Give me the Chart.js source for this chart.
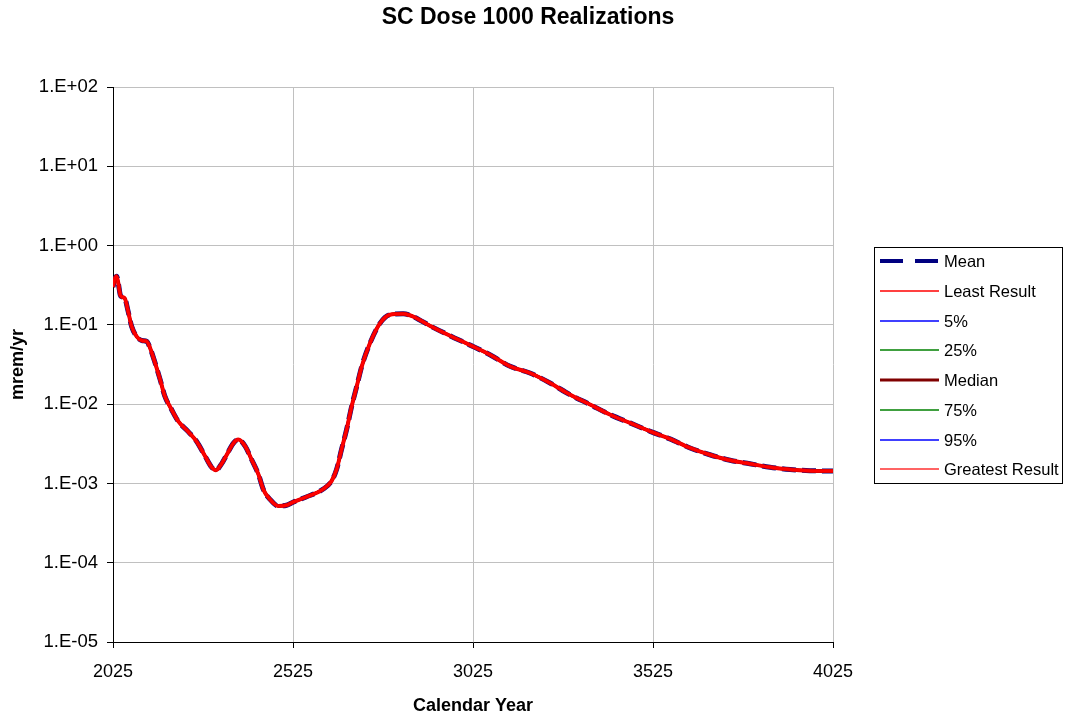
<!DOCTYPE html>
<html>
<head>
<meta charset="utf-8">
<title>SC Dose 1000 Realizations</title>
<script src="https://cdn.jsdelivr.net/npm/chart.js@4.4.1/dist/chart.umd.min.js"></script>
<style>
  html, body { margin: 0; padding: 0; background: #ffffff; }
  canvas { display: block; }
</style>
</head>
<body>
<canvas id="doseChart" width="1066" height="721"></canvas>
<script>
// ---- Data -------------------------------------------------------------
const chartTitle = 'SC Dose 1000 Realizations';
const xAxisTitle = 'Calendar Year';
const yAxisTitle = 'mrem/yr';

const seriesNames = ['Mean', 'Least Result', '5%', '25%', 'Median', '75%', '95%', 'Greatest Result'];

// Calendar years of the sampled dose history
const years = [
  2025, 2030, 2035, 2040, 2045, 2050, 2058, 2066, 2077, 2091,
  2105, 2119, 2128, 2142, 2156, 2169, 2188, 2206, 2234, 2257,
  2281, 2299, 2311, 2327, 2341, 2359, 2373, 2392, 2410, 2429,
  2443, 2461, 2484, 2507, 2525, 2560, 2609, 2632, 2646, 2660,
  2674, 2688, 2702, 2716, 2739, 2767, 2794, 2831, 2859, 2906,
  2961, 3017, 3072, 3128, 3183, 3239, 3294, 3350, 3405, 3461,
  3519, 3572, 3628, 3683, 3739, 3794, 3850, 3906, 3961, 4025
];

// Dose (mrem/yr); every statistic of the 1000 realizations follows this
// same history, so all eight series share these values.
const dose = [
  0.30, 0.38, 0.41, 0.33, 0.24, 0.225, 0.215, 0.155, 0.095, 0.071,
  0.0635, 0.0617, 0.051, 0.033, 0.0204, 0.0126, 0.0085, 0.0061, 0.0045, 0.0034,
  0.0022, 0.0016, 0.00147, 0.00178, 0.0023, 0.0032, 0.00357, 0.00295, 0.0020, 0.00130,
  0.00083, 0.00063, 0.00052, 0.00053, 0.00058, 0.00067, 0.00085, 0.00107, 0.0015, 0.0027,
  0.0048, 0.0094, 0.0167, 0.030, 0.059, 0.105, 0.134, 0.138, 0.127, 0.097,
  0.073, 0.0555, 0.042, 0.030, 0.0247, 0.0185, 0.0132, 0.0099, 0.0074, 0.0058,
  0.0045, 0.00365, 0.0028, 0.0023, 0.00196, 0.00177, 0.0016, 0.0015, 0.00145, 0.00143
];

const xTicks = [2025, 2525, 3025, 3525, 4025];
const yTicks = [1e-5, 1e-4, 1e-3, 1e-2, 1e-1, 1, 10, 100];

// ---- Styles -----------------------------------------------------------
const FONT = '"Liberation Sans", Arial, Helvetica, sans-serif';

// line: colour/width in the plot; key: colour/width of the legend sample
const seriesStyle = {
  'Mean':            { line: '#000080', width: 5,   dash: [14, 6], key: '#000080', keyWidth: 4,   keyDash: [23, 12] },
  'Least Result':    { line: '#ff0000', width: 4,   key: '#ff0000', keyWidth: 1.4 },
  '5%':              { line: '#0000ff', width: 1,   key: '#0000ff', keyWidth: 1.4 },
  '25%':             { line: '#008000', width: 1,   key: '#008000', keyWidth: 1.4 },
  'Median':          { line: '#800000', width: 3,   key: '#800000', keyWidth: 3 },
  '75%':             { line: '#008000', width: 1,   key: '#008000', keyWidth: 1.4 },
  '95%':             { line: '#0000ff', width: 1,   key: '#0000ff', keyWidth: 1.4 },
  'Greatest Result': { line: '#ff0000', width: 3,   key: '#ff3030', keyWidth: 1.4 }
};

const points = years.map((yr, i) => ({ x: yr, y: dose[i] }));

const datasets = seriesNames.map((name, i) => {
  const s = seriesStyle[name];
  return {
    label: name,
    data: points,
    borderColor: s.line,
    backgroundColor: s.line,
    borderWidth: s.width,
    borderDash: s.dash || [],
    pointRadius: 0,
    pointHoverRadius: 0,
    cubicInterpolationMode: 'monotone',
    fill: false,
    // later series are painted over earlier ones
    order: seriesNames.length - 1 - i
  };
});

function sciLabel(v) {
  const e = Math.round(Math.log10(v));
  return '1.E' + (e < 0 ? '-' : '+') + String(Math.abs(e)).padStart(2, '0');
}

// Title and boxed legend
const decorations = {
  id: 'decorations',
  afterDraw(chart) {
    const ctx = chart.ctx;
    ctx.save();
    ctx.fillStyle = '#000000';
    ctx.font = 'bold 23px ' + FONT;
    ctx.textAlign = 'center';
    ctx.textBaseline = 'middle';
    ctx.fillText(chartTitle, 528, 18);

    // legend frame
    ctx.strokeStyle = '#000000';
    ctx.lineWidth = 1;
    ctx.setLineDash([]);
    ctx.strokeRect(874.5, 247.5, 188, 236);

    ctx.font = '16.5px ' + FONT;
    ctx.textAlign = 'left';
    ctx.textBaseline = 'middle';
    seriesNames.forEach((name, i) => {
      const s = seriesStyle[name];
      const y = Math.round(261 + i * 29.75);
      ctx.beginPath();
      ctx.strokeStyle = s.key;
      ctx.lineWidth = s.keyWidth;
      ctx.setLineDash(s.keyDash || []);
      ctx.moveTo(880, y);
      ctx.lineTo(939, y);
      ctx.stroke();
      ctx.setLineDash([]);
      ctx.fillStyle = '#000000';
      ctx.fillText(name, 944, y + 1);
    });
    ctx.restore();
  }
};

const whiteBackground = {
  id: 'whiteBackground',
  beforeDraw(chart) {
    const ctx = chart.ctx;
    ctx.save();
    ctx.fillStyle = '#ffffff';
    ctx.fillRect(0, 0, chart.width, chart.height);
    ctx.restore();
  }
};

new Chart(document.getElementById('doseChart'), {
  type: 'line',
  data: { datasets },
  plugins: [whiteBackground, decorations],
  options: {
    responsive: false,
    animation: false,
    devicePixelRatio: 1,
    layout: { padding: { top: 87, right: 233, bottom: 0, left: 0 } },
    plugins: {
      legend: { display: false },
      title: { display: false },
      tooltip: { enabled: false }
    },
    scales: {
      x: {
        type: 'linear',
        min: 2025,
        max: 4025,
        afterBuildTicks: (scale) => { scale.ticks = xTicks.map(v => ({ value: v })); },
        afterFit: (scale) => { scale.height = 79; },
        ticks: {
          color: '#000000',
          font: { family: FONT, size: 18 },
          padding: 13,
          maxRotation: 0,
          callback: (v) => String(v)
        },
        grid: { color: '#c0c0c0', lineWidth: 1, tickColor: '#000000', tickLength: 6, drawTicks: true },
        border: { color: '#000000', width: 1 },
        title: {
          display: true,
          text: xAxisTitle,
          color: '#000000',
          font: { family: FONT, size: 18, weight: 'bold' },
          padding: { top: 0, bottom: 4 }
        }
      },
      y: {
        type: 'logarithmic',
        min: 1e-5,
        max: 100,
        afterBuildTicks: (scale) => { scale.ticks = yTicks.map(v => ({ value: v, major: true })); },
        afterFit: (scale) => { scale.width = 113; },
        ticks: {
          color: '#000000',
          font: { family: FONT, size: 18.5 },
          padding: 9,
          autoSkip: false,
          callback: (v) => sciLabel(v)
        },
        grid: { color: '#c0c0c0', lineWidth: 1, tickColor: '#000000', tickLength: 6, drawTicks: true },
        border: { color: '#000000', width: 1 },
        title: {
          display: true,
          text: yAxisTitle,
          color: '#000000',
          font: { family: FONT, size: 18, weight: 'bold' },
          padding: { top: 7, bottom: 0 }
        }
      }
    }
  }
});
</script>
</body>
</html>
